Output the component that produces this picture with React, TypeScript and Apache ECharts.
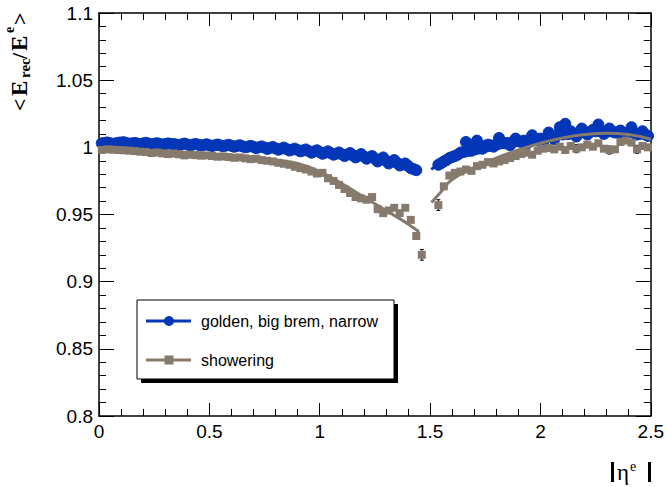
import React, { useEffect, useRef } from "react";
import * as echarts from "echarts";

// <E_rec/E^e> versus |eta^e|, two electron classes
const BLUE = "#0436b8";
const GRAY = "#867a6d";

// golden, big brem, narrow: [eta, mean] (odd half-bins)
const goldenBarrel = [
  [0.0125, 1.003], [0.0375, 1.0036], [0.0625, 1.0026], [0.0875, 1.0034], [0.1125, 1.0038],
  [0.1375, 1.0026], [0.1625, 1.0033], [0.1875, 1.0024], [0.2125, 1.0034], [0.2375, 1.0022],
  [0.2625, 1.0031], [0.2875, 1.002], [0.3125, 1.0029], [0.3375, 1.0024], [0.3625, 1.0017],
  [0.3875, 1.0028], [0.4125, 1.0015], [0.4375, 1.0025], [0.4625, 1.0013], [0.4875, 1.0023],
  [0.5125, 1.001], [0.5375, 1.0021], [0.5625, 1.0008], [0.5875, 1.0019], [0.6125, 1.0004],
  [0.6375, 1.0016], [0.6625, 1.0], [0.6875, 1.0011], [0.7125, 0.9994], [0.7375, 1.0007],
  [0.7625, 0.9988], [0.7875, 1.0003], [0.8125, 0.9982], [0.8375, 0.9998], [0.8625, 0.9976],
  [0.8875, 0.999], [0.9125, 0.997], [0.9375, 0.9984], [0.9625, 0.996], [0.9875, 0.9978],
  [1.0125, 0.9952], [1.0375, 0.997], [1.0625, 0.9945], [1.0875, 0.9962], [1.1125, 0.9935],
  [1.1375, 0.9958], [1.1625, 0.9925], [1.1875, 0.995], [1.2125, 0.9915], [1.2375, 0.9935],
  [1.2625, 0.9895], [1.2875, 0.9925], [1.3125, 0.988], [1.3375, 0.9905], [1.3625, 0.9865],
  [1.3875, 0.988], [1.4125, 0.9845], [1.4375, 0.983],
];
// golden, even half-bins
const goldenBarrelB = [
  [0.025, 1.0033], [0.05, 1.0031], [0.075, 1.0029], [0.1, 1.0036], [0.125, 1.0032],
  [0.15, 1.0029], [0.175, 1.0028], [0.2, 1.0029], [0.225, 1.0028], [0.25, 1.0026],
  [0.275, 1.0025], [0.3, 1.0024], [0.325, 1.0026], [0.35, 1.0021], [0.375, 1.0022],
  [0.4, 1.0021], [0.425, 1.002], [0.45, 1.0019], [0.475, 1.0018], [0.5, 1.0016],
  [0.525, 1.0015], [0.55, 1.0014], [0.575, 1.0013], [0.6, 1.0011], [0.625, 1.001],
  [0.65, 1.0008], [0.675, 1.0005], [0.7, 1.0003], [0.725, 1.0001], [0.75, 0.9998],
  [0.775, 0.9996], [0.8, 0.9992], [0.825, 0.999], [0.85, 0.9987], [0.875, 0.9983],
  [0.9, 0.998], [0.925, 0.9977], [0.95, 0.9972], [0.975, 0.9969], [1.0, 0.9965],
  [1.025, 0.996], [1.05, 0.9957], [1.075, 0.9953], [1.1, 0.9948], [1.125, 0.9946],
  [1.15, 0.994], [1.175, 0.9937], [1.2, 0.9932], [1.225, 0.9926], [1.25, 0.9915],
  [1.275, 0.991], [1.3, 0.99], [1.325, 0.9893], [1.35, 0.9885], [1.375, 0.9872],
  [1.4, 0.9862], [1.425, 0.9838],
];
const goldenEndcap = [
  [1.5375, 0.987], [1.5625, 0.9895], [1.5875, 0.992], [1.6125, 0.9935], [1.6375, 0.996],
  [1.6625, 1.004], [1.6875, 0.9975], [1.7125, 1.005], [1.7375, 0.999], [1.7625, 1.002],
  [1.7875, 1.0005], [1.8125, 1.007], [1.8375, 1.003], [1.8625, 1.0015], [1.8875, 1.0065],
  [1.9125, 1.004], [1.9375, 1.0025], [1.9625, 1.009], [1.9875, 1.005], [2.0125, 1.004],
  [2.0375, 1.011], [2.0625, 1.006], [2.0875, 1.015], [2.1125, 1.0175], [2.1375, 1.012],
  [2.1625, 1.008], [2.1875, 1.014], [2.2125, 1.0095], [2.2375, 1.013], [2.2625, 1.017],
  [2.2875, 1.01], [2.3125, 1.014], [2.3375, 1.011], [2.3625, 1.0125], [2.3875, 1.01],
  [2.4125, 1.015], [2.4375, 1.0095], [2.4625, 1.012], [2.4875, 1.0085],
];
const goldenEndcapB = [
  [1.55, 0.9882], [1.575, 0.9905], [1.6, 0.9928], [1.625, 0.9945], [1.65, 0.9965],
  [1.675, 0.9985], [1.7, 0.9995], [1.725, 1.0008], [1.75, 1.0012], [1.775, 1.0015],
  [1.8, 1.002], [1.825, 1.0035], [1.85, 1.0032], [1.875, 1.004], [1.9, 1.0045],
  [1.925, 1.005], [1.95, 1.0055], [1.975, 1.006], [2.0, 1.0065], [2.025, 1.007],
  [2.05, 1.0078], [2.075, 1.009], [2.1, 1.0095], [2.125, 1.0098], [2.15, 1.0105],
  [2.175, 1.0108], [2.2, 1.011], [2.225, 1.0115], [2.25, 1.012], [2.275, 1.0118],
  [2.3, 1.0115], [2.325, 1.0118], [2.35, 1.0112], [2.375, 1.011], [2.4, 1.0112],
  [2.425, 1.0105], [2.45, 1.01], [2.475, 1.0095],
];

// showering: [eta, mean]
const showerBarrel = [
  [0.0125, 0.998], [0.0375, 0.9985], [0.0625, 0.9983], [0.0875, 0.998], [0.1125, 0.9978],
  [0.1375, 0.9975], [0.1625, 0.9972], [0.1875, 0.9968], [0.2125, 0.9965], [0.2375, 0.9958],
  [0.2625, 0.9962], [0.2875, 0.9955], [0.3125, 0.995], [0.3375, 0.9954], [0.3625, 0.9948],
  [0.3875, 0.994], [0.4125, 0.9945], [0.4375, 0.9942], [0.4625, 0.9938], [0.4875, 0.994],
  [0.5125, 0.9935], [0.5375, 0.993], [0.5625, 0.9932], [0.5875, 0.9928], [0.6125, 0.9922],
  [0.6375, 0.9925], [0.6625, 0.9918], [0.6875, 0.9912], [0.7125, 0.9915], [0.7375, 0.9905],
  [0.7625, 0.99], [0.7875, 0.9895], [0.8125, 0.9885], [0.8375, 0.9878], [0.8625, 0.987],
  [0.8875, 0.9855], [0.9125, 0.9845], [0.9375, 0.9835], [0.9625, 0.982], [0.9875, 0.9805],
  [1.0125, 0.981], [1.0375, 0.977], [1.0625, 0.975], [1.0875, 0.972], [1.1125, 0.969],
  [1.1375, 0.966], [1.1625, 0.963], [1.1875, 0.962], [1.2125, 0.961], [1.2375, 0.963],
  [1.2625, 0.954], [1.2875, 0.951], [1.3125, 0.953], [1.3375, 0.955], [1.3625, 0.951],
  [1.3875, 0.955], [1.4125, 0.946], [1.4375, 0.934], [1.4625, 0.92],
];
const showerEndcap = [
  [1.5375, 0.957], [1.5625, 0.971], [1.5875, 0.979], [1.6125, 0.981], [1.6375, 0.982],
  [1.6625, 0.9835], [1.6875, 0.9825], [1.7125, 0.986], [1.7375, 0.987], [1.7625, 0.989],
  [1.7875, 0.988], [1.8125, 0.9895], [1.8375, 0.9905], [1.8625, 0.992], [1.8875, 0.9935],
  [1.9125, 0.995], [1.9375, 0.996], [1.9625, 0.9945], [1.9875, 0.9975], [2.0125, 0.999],
  [2.0375, 0.9995], [2.0625, 0.9985], [2.0875, 1.0005], [2.1125, 0.998], [2.1375, 1.001],
  [2.1625, 0.999], [2.1875, 1.0], [2.2125, 1.002], [2.2375, 1.0005], [2.2625, 1.003],
  [2.2875, 0.999], [2.3125, 0.998], [2.3375, 0.9985], [2.3625, 1.004], [2.3875, 1.005],
  [2.4125, 1.0035], [2.4375, 0.9985], [2.4625, 1.001], [2.4875, 1.0],
];
// visible statistical errors on the showering points: [eta, error]
const showerErrors = [
  [1.4625, 0.004], [1.5375, 0.004], [2.1625, 0.003], [2.3125, 0.003], [2.4375, 0.003],
];

// fitted curves
const goldenFitBarrel = [
  [0, 1.0031], [0.2, 1.0027], [0.4, 1.0021], [0.6, 1.0012], [0.8, 0.9995],
  [1.0, 0.9962], [1.2, 0.992], [1.3, 0.9893], [1.4, 0.9862], [1.45, 0.9842],
];
const goldenFitEndcap = [
  [1.505, 0.9836], [1.55, 0.988], [1.6, 0.991], [1.7, 0.995], [1.8, 0.999], [1.9, 1.002],
  [2.0, 1.0045], [2.1, 1.007], [2.2, 1.0088], [2.3, 1.0098], [2.4, 1.0098], [2.5, 1.0085],
];
const showerFitBarrel = [
  [0, 0.9992], [0.2, 0.9978], [0.4, 0.9962], [0.6, 0.994], [0.8, 0.9905], [0.9, 0.988],
  [1.0, 0.982], [1.1, 0.973], [1.2, 0.963], [1.3, 0.953], [1.4, 0.943], [1.45, 0.937],
];
const showerFitEndcap = [
  [1.506, 0.959], [1.55, 0.967], [1.6, 0.976], [1.7, 0.985], [1.8, 0.992], [1.9, 0.998],
  [2.0, 1.003], [2.1, 1.007], [2.2, 1.0095], [2.3, 1.0105], [2.4, 1.0095], [2.5, 1.006],
];

const SANS = "'Liberation Sans', Arial, Helvetica, sans-serif";
const SERIF = "'Liberation Serif', 'Times New Roman', serif";

const App = () => {
  const chartRef = useRef(null);

  useEffect(() => {
    const chart = echarts.init(chartRef.current, null, { renderer: "svg" });

    const allShower = showerBarrel.concat(showerEndcap);
    const errData = showerErrors.map(([eta, err]) => {
      const p = allShower.find((d) => d[0] === eta);
      return [eta, p ? p[1] : 1, err];
    });

    const frameAxis = (position, labels) => ({
      position,
      axisLine: { show: true, onZero: false, lineStyle: { color: "#000", width: 1.5 } },
      axisTick: { show: true, inside: true, length: 13, lineStyle: { color: "#000", width: 1 } },
      minorTick: { show: true, splitNumber: 5, length: 7, lineStyle: { color: "#000", width: 1 } },
      splitLine: { show: false },
      axisLabel: labels
        ? { show: true, color: "#000", fontSize: 19, fontFamily: SANS }
        : { show: false },
    });

    const xBase = { type: "value", min: 0, max: 2.5, interval: 0.5 };
    const yBase = { type: "value", min: 0.8, max: 1.1, interval: 0.05 };

    const fitLine = (data, color) => ({
      type: "line",
      data,
      smooth: true,
      showSymbol: false,
      symbol: "none",
      lineStyle: { color, width: 3 },
      z: 4,
    });

    const option = {
      animation: false,
      grid: { left: 99, right: 15, top: 13, bottom: 71 },
      xAxis: [
        { ...xBase, ...frameAxis("bottom", true), axisLabel: { show: true, color: "#000", fontSize: 19, fontFamily: SANS, margin: 6 } },
        { ...xBase, ...frameAxis("top", false) },
      ],
      yAxis: [
        { ...yBase, ...frameAxis("left", true), axisTick: { show: true, inside: true, length: 15, lineStyle: { color: "#000" } }, axisLabel: { show: true, color: "#000", fontSize: 19, fontFamily: SANS, margin: 6 } },
        { ...yBase, ...frameAxis("right", false), axisTick: { show: true, inside: true, length: 15, lineStyle: { color: "#000" } } },
      ],
      series: [
        {
          type: "scatter",
          data: goldenBarrel.concat(goldenBarrelB, goldenEndcap, goldenEndcapB),
          symbol: "circle",
          symbolSize: 11,
          itemStyle: { color: BLUE, opacity: 1, borderColor: BLUE, borderWidth: 1 },
          emphasis: { disabled: true },
          z: 2,
        },
        fitLine(goldenFitBarrel, BLUE),
        fitLine(goldenFitEndcap, BLUE),
        {
          type: "custom",
          data: errData,
          encode: { x: 0, y: 1 },
          z: 5,
          renderItem: (params, api) => {
            const x = api.value(0);
            const y = api.value(1);
            const e = api.value(2);
            const top = api.coord([x, y + e]);
            const bot = api.coord([x, y - e]);
            const st = { stroke: "#000", lineWidth: 1 };
            return {
              type: "group",
              children: [
                { type: "line", shape: { x1: top[0], y1: top[1], x2: bot[0], y2: bot[1] }, style: st },
                { type: "line", shape: { x1: top[0] - 2, y1: top[1], x2: top[0] + 2, y2: top[1] }, style: st },
                { type: "line", shape: { x1: bot[0] - 2, y1: bot[1], x2: bot[0] + 2, y2: bot[1] }, style: st },
              ],
            };
          },
        },
        {
          type: "scatter",
          data: allShower,
          symbol: "rect",
          symbolSize: 8,
          itemStyle: { color: GRAY, opacity: 1 },
          emphasis: { disabled: true },
          z: 6,
        },
        { ...fitLine(showerFitBarrel, GRAY), z: 7 },
        { ...fitLine(showerFitEndcap, GRAY), z: 7 },
      ],
      graphic: [
        // y title, rotated
        {
          type: "group",
          x: 19,
          y: 111,
          rotation: Math.PI / 2,
          children: [
            { type: "text", style: { text: "<", x: 0, y: 0, font: `bold 22px ${SERIF}`, fill: "#000", verticalAlign: "middle" } },
            { type: "text", style: { text: "E", x: 15, y: 0, font: `bold 23px ${SERIF}`, fill: "#000", verticalAlign: "middle" } },
            { type: "text", style: { text: "rec", x: 33, y: 6, font: `bold 15px ${SERIF}`, fill: "#000", verticalAlign: "middle" } },
            { type: "text", style: { text: "/", x: 52, y: 0, font: `bold 22px ${SERIF}`, fill: "#000", verticalAlign: "middle" } },
            { type: "text", style: { text: "E", x: 60, y: 0, font: `bold 23px ${SERIF}`, fill: "#000", verticalAlign: "middle" } },
            { type: "text", style: { text: "e", x: 78, y: -10, font: `bold 14px ${SERIF}`, fill: "#000", verticalAlign: "middle" } },
            { type: "text", style: { text: ">", x: 86, y: 0, font: `bold 22px ${SERIF}`, fill: "#000", verticalAlign: "middle" } },
          ],
        },
        // x title
        {
          type: "group",
          x: 0,
          y: 0,
          children: [
            { type: "rect", shape: { x: 611, y: 462, width: 3, height: 20 }, style: { fill: "#000" } },
            { type: "text", style: { text: "η", x: 617, y: 472, font: `23px ${SERIF}`, fill: "#000", verticalAlign: "middle" } },
            { type: "text", style: { text: "e", x: 630, y: 466, font: `14px ${SERIF}`, fill: "#000", verticalAlign: "middle" } },
            { type: "rect", shape: { x: 648, y: 462, width: 3, height: 20 }, style: { fill: "#000" } },
          ],
        },
        // legend box with shadow
        {
          type: "group",
          x: 0,
          y: 0,
          children: [
            { type: "rect", shape: { x: 141, y: 304, width: 257, height: 79 }, style: { fill: "#000" } },
            { type: "rect", shape: { x: 137, y: 300, width: 257, height: 79 }, style: { fill: "#fff", stroke: "#000", lineWidth: 1 } },
            { type: "line", shape: { x1: 146, y1: 321, x2: 191, y2: 321 }, style: { stroke: BLUE, lineWidth: 3 } },
            { type: "circle", shape: { cx: 169, cy: 321, r: 5 }, style: { fill: BLUE } },
            { type: "text", style: { text: "golden, big brem, narrow", x: 201, y: 321, font: `16px ${SANS}`, fill: "#000", verticalAlign: "middle" } },
            { type: "line", shape: { x1: 146, y1: 360, x2: 191, y2: 360 }, style: { stroke: GRAY, lineWidth: 3 } },
            { type: "rect", shape: { x: 164.5, y: 355.5, width: 9, height: 9 }, style: { fill: GRAY } },
            { type: "text", style: { text: "showering", x: 201, y: 360, font: `16px ${SANS}`, fill: "#000", verticalAlign: "middle" } },
          ],
        },
      ],
    };

    chart.setOption(option);

    return () => {
      chart.dispose();
    };
  }, []);

  return (
    <div
      ref={chartRef}
      style={{ position: "fixed", left: 0, top: 0, width: "667px", height: "487px", background: "#fff" }}
    ></div>
  );
};

export default App;
